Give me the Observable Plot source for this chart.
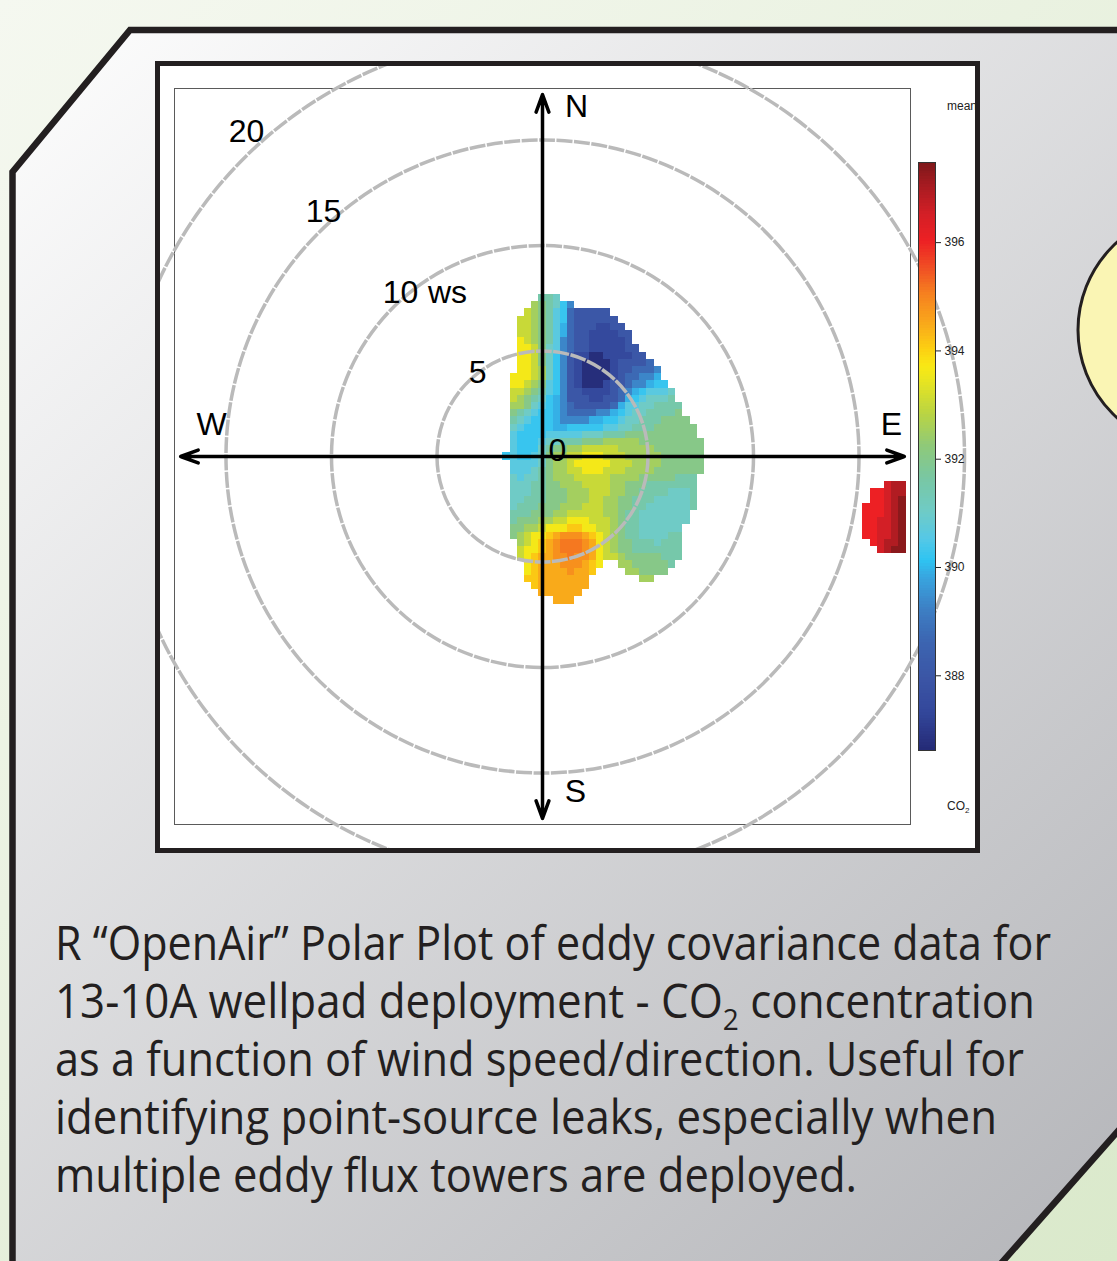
<!DOCTYPE html>
<html>
<head>
<meta charset="utf-8">
<script src="https://cdn.jsdelivr.net/npm/d3@7"></script>
<script src="https://cdn.jsdelivr.net/npm/@observablehq/plot@0.6"></script>
<style>
html, body { margin: 0; padding: 0; width: 1117px; height: 1261px; overflow: hidden; background: #f1f5ea; }
#page { position: relative; width: 1117px; height: 1261px; }
#deco { position: absolute; left: 0; top: 0; }
#frame { position: absolute; left: 155px; top: 61px; width: 825px; height: 792px; box-sizing: border-box;
  border: 5px solid #231f20; background: #fff; overflow: hidden; }
.small { position: absolute; font-family: "Liberation Sans", Arial, sans-serif; font-size: 12px; color: #222; white-space: nowrap; }
</style>
</head>
<body>
<div id="page">
<svg id="deco" width="1117" height="1261" viewBox="0 0 1117 1261">
  <defs>
    <linearGradient id="bg" gradientUnits="userSpaceOnUse" x1="0" y1="0" x2="1117" y2="1261">
      <stop offset="0" stop-color="#f5f8f0"/>
      <stop offset="1" stop-color="#dae9cb"/>
    </linearGradient>
    <linearGradient id="panel" gradientUnits="userSpaceOnUse" x1="0" y1="0" x2="1117" y2="1261">
      <stop offset="0" stop-color="#ffffff"/>
      <stop offset="1" stop-color="#b4b5b9"/>
    </linearGradient>
  </defs>
  <rect x="0" y="0" width="1117" height="1261" fill="url(#bg)"/>
  <polygon points="130,30 1125,30 1125,1123 997,1268 12.5,1268 12.5,172" fill="url(#panel)" stroke="#231f20" stroke-width="6.5"/>
  <circle cx="1196" cy="330" r="118" fill="#faf5b4" stroke="#231f20" stroke-width="3"/>
  <g font-family="'Open Sans', 'Noto Sans', sans-serif" font-size="47" fill="#231f20">
    <text x="55" y="960" textLength="996" lengthAdjust="spacingAndGlyphs">R “OpenAir” Polar Plot of eddy covariance data for</text>
    <text x="55" y="1018" textLength="980" lengthAdjust="spacingAndGlyphs">13-10A wellpad deployment - CO<tspan font-size="30" dy="12">2</tspan><tspan dy="-12"> concentration</tspan></text>
    <text x="55" y="1076" textLength="969" lengthAdjust="spacingAndGlyphs">as a function of wind speed/direction. Useful for</text>
    <text x="55" y="1134" textLength="942" lengthAdjust="spacingAndGlyphs">identifying point-source leaks, especially when</text>
    <text x="55" y="1192" textLength="802" lengthAdjust="spacingAndGlyphs">multiple eddy flux towers are deployed.</text>
  </g>
</svg>
<div id="frame">
  <div class="small" style="left:787px; top:33px;">mean</div>
  <div class="small" style="left:787px; top:733px;">CO<sub style="font-size:8px">2</sub></div>
</div>
</div>
<script>
// ---- data: mean CO2 (ppm) on the polar-plot grid ----
// each character is one grid cell; "." = no data. Rows run from v-index 22 (north) down to -20,
// columns start at u-index -5 (west of centre) and run eastward.
const gridRows = [
  ".....JJI",
  "....LKJIGE",
  "...MLKJHGDCCCCC",
  "..MMLKJHGDCCCCCC",
  "..MMLKJHFDCCCBBCC",
  "..MMLKJHFDCCBBBBCC",
  "..NMLKJHEDCCBBBBBC",
  "..NNMKIHEDCCBBBBBCC",
  "..NNMKIGECBBAABBBBCC",
  "..NNMKIGECBAAAABCCCCD",
  "..NNMLIGECBAAAABCCDDDE",
  ".NNNMLIGECBAAAABCDDEEF",
  ".NNMLKHGECBAAABCCDEEFGG",
  ".MMLKJHGECCBBBBCDEFGHHHI",
  ".MLKJIGFECCCBBCCDFGHIIIJ",
  ".LLKIHGFEDCCCCCDFHHIIJJJJ",
  ".KJIHGGFEDDDDEEFGHIIJJJJK",
  ".JIHGGGFEEEEFFGGHIIJJJKKKK",
  ".IHGGGGFFGGGGGHHIIJJJKKKKKK",
  ".HGGGGHHHHHIIIJJJKKKKKKKKKK",
  ".HGGGHIIJJJKKKLLLLLKKKKKKKKK",
  ".HGGGIJKKLLMMMMMLLLLLKKKKKKK",
  "GHGGHIKLLMMNNNMMMLLLLLKKKKKK",
  ".HHHHIKLLMNNNNNMMMLLLLKKKKKK",
  ".HHHIJKLLMMNNNMMMLLLLKKKKKKK",
  ".IHIIJKLLLMMMMMLLLLKKKKKJJJ",
  ".IIIJJKKLLLMMMMLLKKKJJJJJJJ",
  ".IIIJJKKKLLLMMMLLKKJJJJIIIJ",
  ".IIJJJKKKLLLMMLLKKJJJIIIIIJ",
  ".IJJJKKKLLLMMMLLKKJJIIIIIIJ",
  ".JJJKKKLLMMMMMLLKJJIIIIIII",
  ".JKKKLLMMNNNMMMLKJJIIIIIII",
  ".KKLLMNNNOONNMMLKJJIIIIII",
  ".KLMNNOPQQQPONMLKJJIIIIJJ",
  "..LMNOPQRRRQPNMLKKJJJIJJJ",
  "..MNNOPQRRRQPNMLKKJJJJJJJ",
  "..MNOPPQQRQQPNMMLKKKKKJJJ",
  "...NOPPPQQQPON..LLKKKKKJ",
  "...NOPPPPQPPO....LLKKKK",
  "...OOPPPPPPP.......LL",
  "....OPPPPPPP",
  ".....PPPPPP",
  ".......PPP"
];
const gridTopRow = 22;
const gridLeftCol = -5;

// isolated high-CO2 patch to the east (rows -4..-13, columns 45..50)
const sourceRows = [
  "...TUU",
  ".SSTUU",
  ".SSTUV",
  "SSSTUV",
  "SSSTUV",
  "SSTTUV",
  "SSTTUV",
  "SSTTUV",
  ".STUUV",
  "..TUVV"
];
const sourceTopRow = -4;
const sourceLeftCol = 45;

const levelCodes = "ABCDEFGHIJKLMNOPQRSTUV";
const levelValues = [386.7, 387.4, 388.0, 388.7, 389.3, 389.9, 390.2, 390.6, 391.0, 391.5, 392.0,
                     392.5, 393.0, 393.6, 394.1, 394.45, 394.8, 395.1, 396.0, 396.5, 396.9, 397.3];

const cellWs = 0.3412;          // grid spacing, wind-speed units
const upperWs = 17.44;          // half-width of the plotting panel, wind-speed units
const axisReach = 17.15;        // length of the compass axes
const ringValues = [5, 10, 15, 20];
const compassDirections = [{name: "N", ux: 0, uy: 1}, {name: "E", ux: 1, uy: 0},
                           {name: "S", ux: 0, uy: -1}, {name: "W", ux: -1, uy: 0}];

const colorTicks = [388, 390, 392, 394, 396];
const colorDomain = [386.62, 397.48];
const colorStops = [386.6, 387.3, 387.9, 388.6, 389.2, 389.8, 390.1, 390.5, 391.0, 391.6, 392.2,
                    392.8, 393.5, 393.7, 394.0, 394.5, 395.0, 395.5, 396.0, 396.5, 397.0, 397.48];
const colorRange = ["#242a76", "#33479b", "#3b55a5", "#3c65b1", "#3d7fc4", "#38a6e0", "#2ec4f2",
                    "#55c8e6", "#6fcbc6", "#78c7a4", "#8ec97a", "#b9d443", "#eee71c", "#f9e814",
                    "#fcd012", "#f9a61b", "#f6821f", "#f04f24", "#ed2024", "#d31f26", "#a81b21", "#7a1719"];

// ---- build cell table ----
function toCells(rows, topRow, leftCol) {
  const out = [];
  rows.forEach((row, r) => {
    Array.from(row).forEach((ch, c) => {
      const i = levelCodes.indexOf(ch);
      if (i < 0) return;
      out.push({k: leftCol + c, j: topRow - r, co2: levelValues[i]});
    });
  });
  return out;
}
const cells = toCells(gridRows, gridTopRow, gridLeftCol).concat(toCells(sourceRows, sourceTopRow, sourceLeftCol));

const colorScale = {type: "linear", domain: colorStops, range: colorRange, clamp: true};
const labelFont = "'Liberation Sans', Arial, Helvetica, sans-serif";
const labAngle = 43.7 * Math.PI / 180;
const labScale = 1.056;

const main = Plot.plot({
  width: 815, height: 782,
  marginLeft: 14, marginTop: 22, marginRight: 65, marginBottom: 24,
  x: {domain: [-upperWs, upperWs], axis: null},
  y: {domain: [-upperWs, upperWs], axis: null},
  r: {type: "linear", domain: [0, upperWs], range: [0, 368]},
  color: colorScale,
  style: {background: "transparent", fontFamily: labelFont},
  marks: [
    Plot.frame({stroke: "#5a5a5a", strokeWidth: 1}),
    Plot.rect(cells, {
      x1: d => (d.k - 0.5) * cellWs, x2: d => (d.k + 0.5) * cellWs,
      y1: d => (d.j - 0.5) * cellWs, y2: d => (d.j + 0.5) * cellWs,
      fill: "co2", shapeRendering: "crispEdges"
    }),
    Plot.dot(ringValues, {x: () => 0, y: () => 0, r: d => d, fill: "none",
      stroke: "#bababa", strokeWidth: 3.5, strokeDasharray: "16,1.5"}),
    Plot.arrow(compassDirections, {x1: () => 0, y1: () => 0,
      x2: d => d.ux * axisReach, y2: d => d.uy * axisReach,
      stroke: "#000", strokeWidth: 3.5, headLength: 8, headAngle: 40}),
    Plot.text(ringValues, {x: v => -v * labScale * Math.sin(labAngle), y: v => v * labScale * Math.cos(labAngle),
      text: v => String(v), dx: 12, dy: -3, fontSize: 32, fill: "#000"}),
    Plot.text(["ws"], {x: () => -10 * labScale * Math.sin(labAngle), y: () => 10 * labScale * Math.cos(labAngle),
      text: d => d, dx: 59, dy: -3, fontSize: 32, fill: "#000"}),
    Plot.text(["0"], {x: () => 0, y: () => 0, text: d => d, dx: 15, dy: -6, fontSize: 32, fill: "#000"}),
    Plot.text(["N"], {x: () => 0, y: () => axisReach, text: d => d, dx: 34, dy: 12, fontSize: 32, fill: "#000"}),
    Plot.text(["S"], {x: () => 0, y: () => -axisReach, text: d => d, dx: 33, dy: -27, fontSize: 32, fill: "#000"}),
    Plot.text(["E"], {x: () => axisReach, y: () => 0, text: d => d, dx: -13, dy: -32, fontSize: 32, fill: "#000"}),
    Plot.text(["W"], {x: () => -axisReach, y: () => 0, text: d => d, dx: 31, dy: -32, fontSize: 32, fill: "#000"})
  ]
});
main.style.position = "absolute";
main.style.left = "0px";
main.style.top = "0px";

// colour key
const rampStep = 0.05;
const ramp = d3.range(colorDomain[0], colorDomain[1], rampStep);
const bar = Plot.plot({
  width: 63, height: 725,
  marginTop: 67, marginBottom: 70, marginLeft: 6, marginRight: 40,
  x: {domain: [0, 1], axis: null},
  y: {domain: colorDomain, axis: "right", ticks: colorTicks, tickSize: 5, tickPadding: 4, label: null},
  color: colorScale,
  style: {background: "transparent", fontFamily: labelFont, fontSize: "12px", color: "#222"},
  marks: [
    Plot.rect(ramp, {x1: () => 0, x2: () => 1, y1: d => d, y2: d => Math.min(d + rampStep + 0.01, colorDomain[1]),
      fill: d => d, shapeRendering: "crispEdges"}),
    Plot.frame({stroke: "#333", strokeWidth: 1})
  ]
});
bar.style.position = "absolute";
bar.style.left = "752px";
bar.style.top = "29px";

const frame = document.getElementById("frame");
frame.insertBefore(main, frame.firstChild);
frame.insertBefore(bar, main.nextSibling);
</script>
</body>
</html>
